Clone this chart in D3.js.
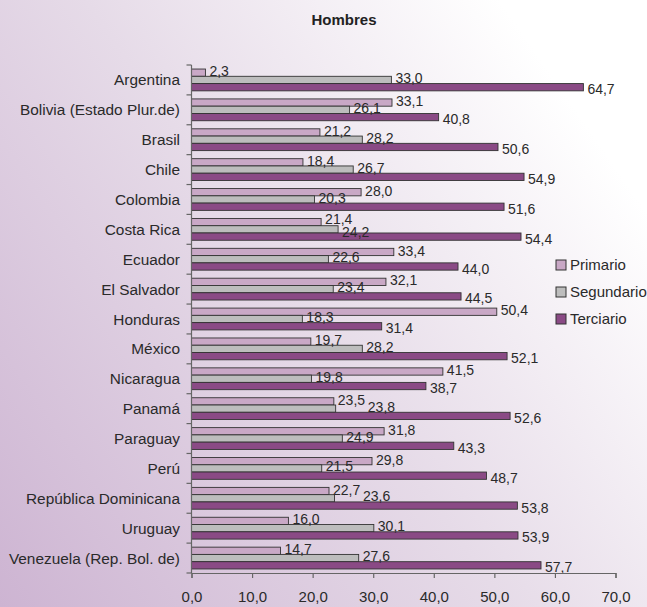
<!DOCTYPE html>
<html>
<head>
<meta charset="utf-8">
<script src="https://cdn.jsdelivr.net/npm/d3@7"></script>
<style>
  body { margin: 0; padding: 0; }
  svg { display: block; font-family: "Liberation Sans", Arial, sans-serif; }
</style>
</head>
<body>
<svg id="chart" width="647" height="607"></svg>
<script>
var countries = ["Argentina", "Bolivia (Estado Plur.de)", "Brasil", "Chile", "Colombia",
  "Costa Rica", "Ecuador", "El Salvador", "Honduras", "México", "Nicaragua", "Panamá",
  "Paraguay", "Perú", "República Dominicana", "Uruguay", "Venezuela (Rep. Bol. de)"];
var series = ["Primario", "Segundario", "Terciario"];
var primario   = [2.3, 33.1, 21.2, 18.4, 28.0, 21.4, 33.4, 32.1, 50.4, 19.7, 41.5, 23.5, 31.8, 29.8, 22.7, 16.0, 14.7];
var segundario = [33.0, 26.1, 28.2, 26.7, 20.3, 24.2, 22.6, 23.4, 18.3, 28.2, 19.8, 23.8, 24.9, 21.5, 23.6, 30.1, 27.6];
var terciario  = [64.7, 40.8, 50.6, 54.9, 51.6, 54.4, 44.0, 44.5, 31.4, 52.1, 38.7, 52.6, 43.3, 48.7, 53.8, 53.9, 57.7];
var xTicks = [0, 10, 20, 30, 40, 50, 60, 70];

var colors = {Primario: "#c9a8c6", Segundario: "#bdbdbd", Terciario: "#8a4a85"};
var labelShift = {Primario: -1.5, Segundario: -2, Terciario: 2};

var svg = d3.select("#chart");
var W = 647, H = 607;

// background gradient
var defs = svg.append("defs");
var grad = defs.append("linearGradient").attr("id", "bg")
  .attr("x1", "0").attr("y1", "1").attr("x2", "1").attr("y2", "0.35");
grad.append("stop").attr("offset", "0").attr("stop-color", "#cdb4d2");
grad.append("stop").attr("offset", "0.55").attr("stop-color", "#e6dbe8");
grad.append("stop").attr("offset", "1").attr("stop-color", "#ffffff");
svg.append("rect").attr("width", W).attr("height", H).attr("fill", "url(#bg)");

var x = d3.scaleLinear().domain([0, 70]).range([191.5, 615.5]);
var y0 = d3.scaleBand().domain(countries).range([65, 573]).paddingInner(0.27).paddingOuter(0.135);
var y1 = d3.scaleBand().domain(series).range([0, y0.bandwidth()]);

var fmt = function(v){ return d3.format(".1f")(v).replace(".", ","); };
var labelW = 26;

// rows with label placement (Excel-like nudging when labels collide)
var rows = countries.map(function(c, i){
  var vals = [
    {key: "Primario", value: primario[i], lx: x(primario[i]) + 4, dy: labelShift.Primario},
    {key: "Segundario", value: segundario[i], lx: x(segundario[i]) + 4, dy: labelShift.Segundario},
    {key: "Terciario", value: terciario[i], lx: x(terciario[i]) + 4, dy: labelShift.Terciario}
  ];
  var p = vals[0], s = vals[1];
  var diff = Math.abs(s.lx - p.lx);
  if (diff < 12) {
    s.lx = p.lx + labelW + 4;
  } else if (diff < labelW) {
    p.dy = -3.5;
    s.dy = 3;
  }
  return {country: c, values: vals};
});

// title
svg.append("text").attr("x", 344).attr("y", 25).attr("text-anchor", "middle")
  .attr("font-size", 15).attr("font-weight", "bold").attr("fill", "#222").text("Hombres");

// bars
var g = svg.append("g").selectAll("g").data(rows).join("g")
  .attr("transform", function(d){ return "translate(0," + y0(d.country) + ")"; });

g.selectAll("rect").data(function(d){ return d.values; }).join("rect")
  .attr("x", x(0))
  .attr("y", function(d){ return y1(d.key); })
  .attr("width", function(d){ return x(d.value) - x(0); })
  .attr("height", y1.bandwidth())
  .attr("fill", function(d){ return colors[d.key]; })
  .attr("stroke", "#333")
  .attr("stroke-width", 0.9);

g.selectAll("text").data(function(d){ return d.values; }).join("text")
  .attr("x", function(d){ return d.lx; })
  .attr("y", function(d){ return y1(d.key) + y1.bandwidth() / 2 + d.dy; })
  .attr("dy", "0.36em")
  .attr("font-size", 14)
  .attr("fill", "#2a2a2a")
  .text(function(d){ return fmt(d.value); });

// left axis with ticks at category boundaries
var axisCol = "#666";
var step = y0.step();
svg.append("line").attr("x1", x(0)).attr("x2", x(0))
  .attr("y1", y0.range()[0]).attr("y2", y0.range()[1])
  .attr("stroke", axisCol).attr("stroke-width", 1.2);
svg.append("g").selectAll("line").data(d3.range(countries.length + 1)).join("line")
  .attr("x1", x(0) - 5).attr("x2", x(0))
  .attr("y1", function(i){ return y0.range()[0] + i * step; })
  .attr("y2", function(i){ return y0.range()[0] + i * step; })
  .attr("stroke", axisCol).attr("stroke-width", 1.2);

svg.append("g").selectAll("text").data(countries).join("text")
  .attr("x", 180)
  .attr("y", function(d){ return y0(d) + y0.bandwidth() / 2; })
  .attr("dy", "0.36em")
  .attr("text-anchor", "end")
  .attr("font-size", 15.4)
  .attr("fill", "#2a2a2a")
  .text(function(d){ return d; });

// bottom axis
var xAxis = svg.append("g").attr("transform", "translate(0,573)")
  .call(d3.axisBottom(x).tickValues(xTicks).tickSize(5).tickPadding(13).tickFormat(fmt));
xAxis.select(".domain").attr("stroke", axisCol).attr("stroke-width", 1.2);
xAxis.selectAll(".tick line").attr("stroke", axisCol).attr("stroke-width", 1.2);
xAxis.selectAll(".tick text").attr("font-size", 15).attr("fill", "#2a2a2a")
  .attr("font-family", "Liberation Sans, Arial, sans-serif");

// legend
var legend = svg.append("g").selectAll("g").data(series).join("g")
  .attr("transform", function(d, i){ return "translate(556," + (265 + i * 27) + ")"; });
legend.append("rect").attr("x", 0).attr("y", -5).attr("width", 10).attr("height", 10)
  .attr("fill", function(d){ return colors[d]; }).attr("stroke", "#333").attr("stroke-width", 1);
legend.append("text").attr("x", 14).attr("y", 0).attr("dy", "0.36em")
  .attr("font-size", 15).attr("fill", "#2a2a2a").text(function(d){ return d; });
</script>
</body>
</html>
